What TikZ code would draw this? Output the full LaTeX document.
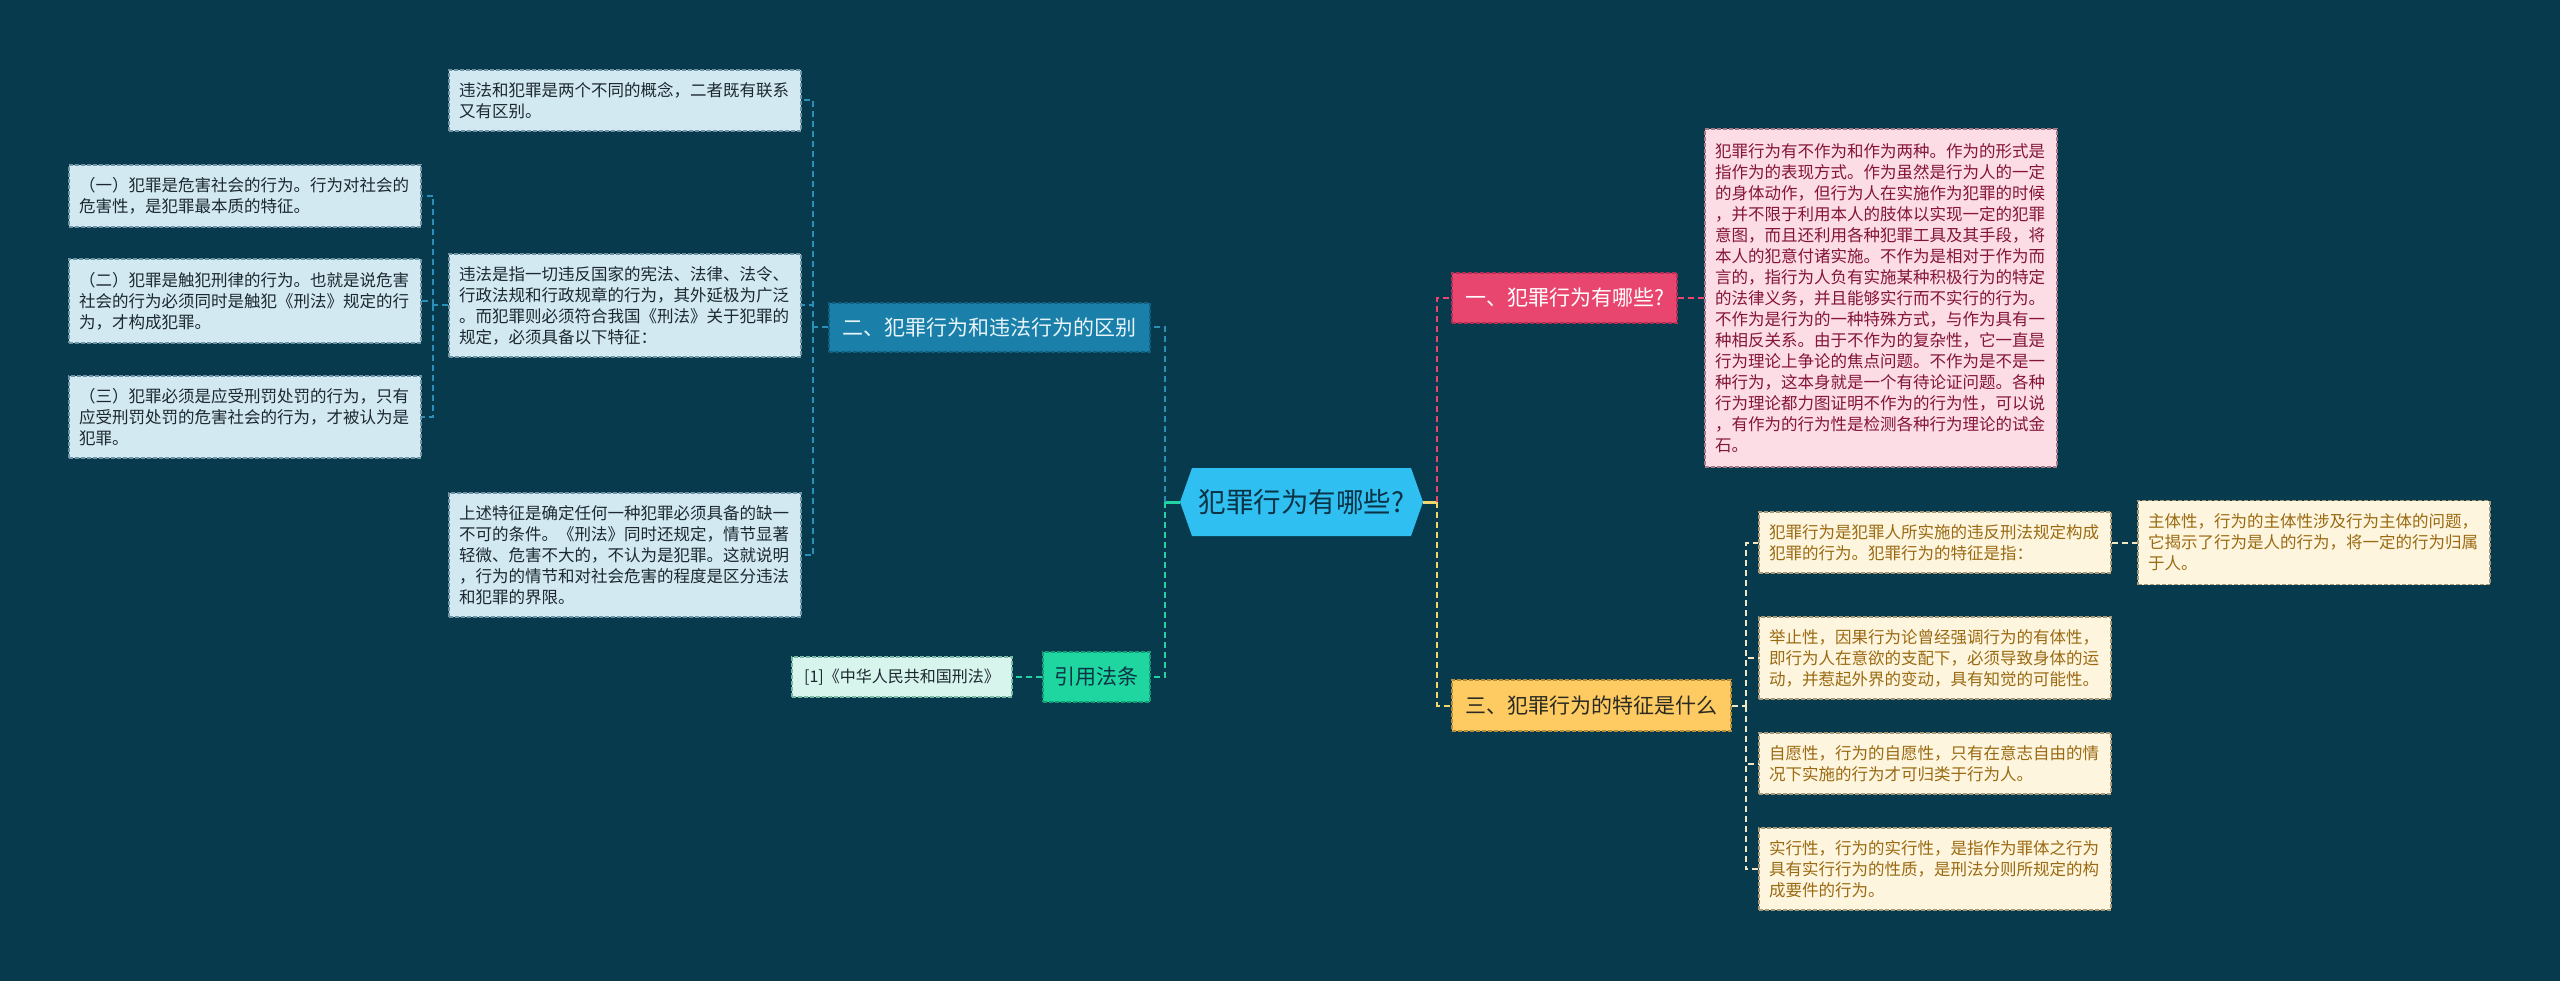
\documentclass[tikz,border=0pt]{standalone}
\usepackage{fontspec}
\setmainfont{Noto Sans CJK SC}
\definecolor{bg}{HTML}{073A4D}
\definecolor{hexfill}{HTML}{2FBFF0}
\definecolor{ctext}{HTML}{0B3346}
\definecolor{lbfill}{HTML}{D3E9F2}
\definecolor{lbdraw}{HTML}{6E93A5}
\definecolor{lbtext}{HTML}{1C2830}
\definecolor{b2fill}{HTML}{1A80AA}
\definecolor{b2draw}{HTML}{135F80}
\definecolor{b2text}{HTML}{E8F4F9}
\definecolor{reffill}{HTML}{1FD6A0}
\definecolor{refdraw}{HTML}{129C77}
\definecolor{r1fill}{HTML}{D7F5EC}
\definecolor{r1draw}{HTML}{78B8A5}
\definecolor{n1fill}{HTML}{E9466F}
\definecolor{n1draw}{HTML}{B03055}
\definecolor{pfill}{HTML}{FCDDE5}
\definecolor{pdraw}{HTML}{A87886}
\definecolor{ptext}{HTML}{84143A}
\definecolor{n3fill}{HTML}{FECB62}
\definecolor{n3draw}{HTML}{B88F36}
\definecolor{n3text}{HTML}{2A2A22}
\definecolor{yfill}{HTML}{FEF5DE}
\definecolor{ydraw}{HTML}{A89A78}
\definecolor{ytext}{HTML}{9A6A12}
\definecolor{cblue}{HTML}{2A90BA}
\definecolor{cgreen}{HTML}{22D4A2}
\definecolor{cpink}{HTML}{E8466E}
\definecolor{cyellow}{HTML}{F0D66C}
\definecolor{ccream}{HTML}{F2E7C4}
\tikzset{
  boxbase/.style={rectangle, inner xsep=10pt, inner ysep=0pt, text width=332pt, align=left,
    font=\fontsize{16.5}{21}\selectfont, line width=1.2pt, dash pattern=on 4pt off 2pt},
  lblue/.style={boxbase, fill=lbfill, draw=lbdraw, text=lbtext},
  pinkbox/.style={boxbase, fill=pfill, draw=pdraw, text=ptext},
  ybox/.style={boxbase, fill=yfill, draw=ydraw, text=ytext},
  title/.style={rectangle, inner sep=0pt, font=\fontsize{21}{25}\selectfont, line width=1.2pt, dash pattern=on 4pt off 2pt},
  conn/.style={line width=2pt, dash pattern=on 6pt off 4pt},
}
\begin{document}
\begin{tikzpicture}[x=1pt,y=-1pt]
\useasboundingbox[fill=bg] (0,0) rectangle (2560,981);

% center hexagon
\fill[hexfill] (1180,502) -- (1192,468) -- (1411,468) -- (1423,502) -- (1411,536) -- (1192,536) -- cycle;
\node[inner sep=0pt, minimum width=243pt, minimum height=68pt, text=ctext, font=\fontsize{27.5}{30}\selectfont] (c) at (1301.5,502) {犯罪行为有哪些?};

% left branch
\node[title, fill=b2fill, draw=b2draw, text=b2text, minimum width=321pt, minimum height=49pt] (b2) at (989.5,327.5) {二、犯罪行为和违法行为的区别};
\node[title, fill=reffill, draw=refdraw, text=ctext, minimum width=107pt, minimum height=50pt] (ref) at (1096.5,677) {引用法条};
\node[rectangle, inner sep=0pt, fill=r1fill, draw=r1draw, line width=1.2pt, dash pattern=on 4pt off 2pt, text=lbtext, font=\fontsize{16}{20}\selectfont, minimum width=220pt, minimum height=40pt] (r1) at (902,677) {[1]《中华人民共和国刑法》};

\node[lblue, minimum height=61pt] (l1) at (625,100.5) {违法和犯罪是两个不同的概念，二者既有联系\\又有区别。};
\node[lblue, minimum height=103pt] (l2) at (625,305.5) {违法是指一切违反国家的宪法、法律、法令、\\行政法规和行政规章的行为，其外延极为广泛\\。而犯罪则必须符合我国《刑法》关于犯罪的\\规定，必须具备以下特征：};
\node[lblue, minimum height=124pt] (l3) at (625,555) {上述特征是确定任何一种犯罪必须具备的缺一\\不可的条件。《刑法》同时还规定，情节显著\\轻微、危害不大的，不认为是犯罪。这就说明\\，行为的情节和对社会危害的程度是区分违法\\和犯罪的界限。};

\node[lblue, minimum height=62pt] (ga) at (245,196) {（一）犯罪是危害社会的行为。行为对社会的\\危害性，是犯罪最本质的特征。};
\node[lblue, minimum height=84pt] (gb) at (245,301) {（二）犯罪是触犯刑律的行为。也就是说危害\\社会的行为必须同时是触犯《刑法》规定的行\\为，才构成犯罪。};
\node[lblue, minimum height=82pt] (gc) at (245,417) {（三）犯罪必须是应受刑罚处罚的行为，只有\\应受刑罚处罚的危害社会的行为，才被认为是\\犯罪。};

% right branch
\node[title, fill=n1fill, draw=n1draw, text=white, minimum width=225pt, minimum height=50pt] (n1) at (1564.5,298) {一、犯罪行为有哪些?};
\node[pinkbox, minimum height=338pt] (p) at (1881,298) {犯罪行为有不作为和作为两种。作为的形式是\\指作为的表现方式。作为虽然是行为人的一定\\的身体动作，但行为人在实施作为犯罪的时候\\，并不限于利用本人的肢体以实现一定的犯罪\\意图，而且还利用各种犯罪工具及其手段，将\\本人的犯意付诸实施。不作为是相对于作为而\\言的，指行为人负有实施某种积极行为的特定\\的法律义务，并且能够实行而不实行的行为。\\不作为是行为的一种特殊方式，与作为具有一\\种相反关系。由于不作为的复杂性，它一直是\\行为理论上争论的焦点问题。不作为是不是一\\种行为，这本身就是一个有待论证问题。各种\\行为理论都力图证明不作为的行为性，可以说\\，有作为的行为性是检测各种行为理论的试金\\石。};

\node[title, fill=n3fill, draw=n3draw, text=n3text, minimum width=279pt, minimum height=51pt] (n3) at (1591.5,705.5) {三、犯罪行为的特征是什么};
\node[ybox, minimum height=61pt] (y1) at (1935,542.5) {犯罪行为是犯罪人所实施的违反刑法规定构成\\犯罪的行为。犯罪行为的特征是指：};
\node[ybox, minimum height=84pt] (y1a) at (2314,542.5) {主体性，行为的主体性涉及行为主体的问题，\\它揭示了行为是人的行为，将一定的行为归属\\于人。};
\node[ybox, minimum height=82pt] (y2) at (1935,658) {举止性，因果行为论曾经强调行为的有体性，\\即行为人在意欲的支配下，必须导致身体的运\\动，并惹起外界的变动，具有知觉的可能性。};
\node[ybox, minimum height=61pt] (y3) at (1935,763.5) {自愿性，行为的自愿性，只有在意志自由的情\\况下实施的行为才可归类于行为人。};
\node[ybox, minimum height=82pt] (y4) at (1935,869) {实行性，行为的实行性，是指作为罪体之行为\\具有实行行为的性质，是刑法分则所规定的构\\成要件的行为。};

% connectors
\coordinate (jl) at (1165,502);
\coordinate (jr) at (1437,502);
\draw[line width=3pt, cgreen] (c.west) -- (jl);
\draw[line width=3pt, cyellow] (c.east) -- (jr);
\draw[conn, cblue] (jl) |- (b2.east);
\draw[conn, cgreen] (jl) |- (ref.east);
\draw[conn, cpink] (jr) |- (n1.west);
\draw[conn, cyellow] (jr) |- (n3.west);

\coordinate (j2) at ([xshift=-15pt]b2.west);
\draw[conn, cblue] (b2.west) -- (j2);
\draw[conn, cblue] (j2) |- (l1.east);
\draw[conn, cblue] (j2) |- (l2.east);
\draw[conn, cblue] (j2) |- (l3.east);

\coordinate (j3) at ([xshift=-15pt]l2.west);
\draw[conn, cblue] (l2.west) -- (j3);
\draw[conn, cblue] (j3) |- (ga.east);
\draw[conn, cblue] (j3) |- (gb.east);
\draw[conn, cblue] (j3) |- (gc.east);

\draw[conn, cgreen] (ref.west) -- (r1.east);
\draw[conn, cpink] (n1.east) -- (p.west);

\coordinate (j4) at ([xshift=14pt]n3.east);
\draw[conn, ccream] (n3.east) -- (j4);
\draw[conn, ccream] (j4) |- (y1.west);
\draw[conn, ccream] (j4) |- (y2.west);
\draw[conn, ccream] (j4) |- (y3.west);
\draw[conn, ccream] (j4) |- (y4.west);
\draw[conn, ccream] (y1.east) -- (y1a.west);
\end{tikzpicture}
\end{document}
